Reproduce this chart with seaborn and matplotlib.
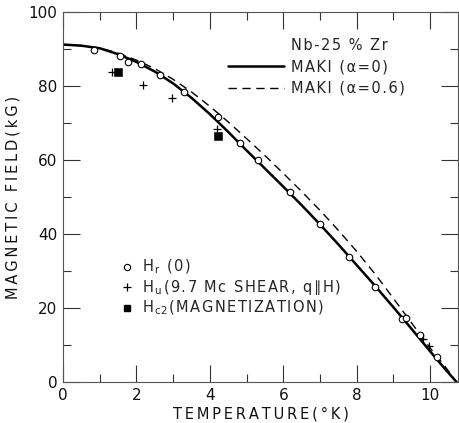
import re
import numpy as np
import pandas as pd
import matplotlib
matplotlib.use("Agg")
import matplotlib.pyplot as plt
from matplotlib.lines import Line2D
from matplotlib.ticker import MultipleLocator
import seaborn as sns

# ---- data ----
T_curve = [0, 0.5, 1, 1.5, 2, 2.5, 3, 3.5, 4, 4.5, 5, 5.5, 6, 6.5, 7, 7.5, 8, 8.5, 9, 9.5, 10, 10.4, 10.72]
H_maki_0 = [91.2, 90.9, 90.2, 88.6, 86.5, 83.9, 80.7, 76.8, 72.4, 67.6, 62.6, 57.7, 52.8, 47.8, 42.6, 37.2,
            31.6, 26.0, 20.2, 14.3, 8.3, 3.6, 0.0]
H_maki_06 = [91.2, 90.9, 90.3, 88.9, 87.0, 84.7, 81.8, 78.4, 74.5, 70.3, 65.8, 61.2, 56.4, 51.5, 46.4, 41.0,
             35.3, 29.2, 22.6, 15.9, 9.2, 4.3, 0.0]

T_hr = [0.85, 1.55, 1.78, 2.13, 2.64, 3.30, 4.23, 4.82, 5.32, 6.19, 7.00, 7.80, 8.50, 9.23, 9.35, 9.73, 10.18]
H_hr = [89.8, 88.1, 86.6, 85.9, 83.0, 78.4, 71.7, 64.5, 60.0, 51.4, 42.8, 33.9, 25.7, 17.0, 17.2, 12.8, 6.8]

T_hu = [1.33, 2.19, 2.98, 4.20, 9.82, 9.98]
H_hu = [83.9, 80.4, 76.7, 68.3, 11.6, 9.6]

T_hc2 = [1.51, 4.23]
H_hc2 = [83.9, 66.4]

x_ticks = [0, 2, 4, 6, 8, 10]
y_ticks = [0, 20, 40, 60, 80, 100]

legend_title = "Nb-25 % Zr"
curve_labels = ["MAKI (\u03b1=0)", "MAKI (\u03b1=0.6)"]
point_labels = ["H$_\\mathrm{r}$ (0)", "H$_\\mathrm{u}$(9.7 Mc SHEAR, q\u2225H)", "H$_\\mathrm{c2}$(MAGNETIZATION)"]
x_label = "TEMPERATURE(\u00b0K)"
y_label = "MAGNETIC FIELD(kG)"

sns.set_theme(style="ticks")
plt.rcParams['font.family'] = ['DejaVu Sans']


def spaced(s, sep="\u2009"):
    """Widen letter spacing outside of mathtext segments."""
    parts = re.split(r"(\$[^$]*\$)", s)
    out = []
    for p in parts:
        if p.startswith("$"):
            out.append(p)
        else:
            out.append(sep.join(list(p)))
    return sep.join([o for o in out if o])


HAIR = "\u200a"

W, H = 459, 423
fig = plt.figure(figsize=(W / 100, H / 100), dpi=100)
ax = fig.add_axes([63 / W, (H - 382) / H, 395 / W, 370 / H])

curves = pd.DataFrame({"T": T_curve, "a0": H_maki_0, "a06": H_maki_06})
sns.lineplot(data=curves, x="T", y="a0", ax=ax, color="black", lw=1.8, sort=False)
sns.lineplot(data=curves, x="T", y="a06", ax=ax, color="black", lw=1.0, sort=False, dashes=False)
ax.lines[-1].set_dashes([6, 4])

sns.scatterplot(x=T_hr, y=H_hr, ax=ax, marker="o", s=22, facecolor="white", edgecolor="black", linewidth=0.8, zorder=3)
sns.scatterplot(x=T_hu, y=H_hu, ax=ax, marker="+", s=40, color="black", linewidth=0.9, zorder=3)
sns.scatterplot(x=T_hc2, y=H_hc2, ax=ax, marker="s", s=26, color="black", edgecolor="black", zorder=3)

ax.set_xlim(0, 10.76)
ax.set_ylim(0, 100)
ax.xaxis.set_minor_locator(MultipleLocator(1))
ax.yaxis.set_minor_locator(MultipleLocator(10))
ax.set_xticks(x_ticks)
ax.set_yticks(y_ticks)
ax.set_xticklabels([str(v) for v in x_ticks])
ax.set_yticklabels([str(v) for v in y_ticks])
ax.tick_params(which="major", direction="in", length=12, width=0.8, color="#333333",
               top=True, right=True, labelsize=11, pad=4, labelcolor="#111111")
ax.tick_params(which="minor", direction="in", length=6, width=0.8, color="#333333", top=True, right=True)
for sp in ax.spines.values():
    sp.set_linewidth(0.8)
    sp.set_color("#555555")

ax.set_xlabel(spaced(x_label), fontsize=10.5, labelpad=3, color="#111111")
ax.set_ylabel(spaced(y_label), fontsize=10.5, labelpad=6, color="#111111")

# upper legend (curves)
h_title = Line2D([], [], linestyle="none")
h0 = Line2D([], [], color="black", lw=1.8)
h1 = Line2D([], [], color="black", lw=1.0, dashes=[6, 4])
leg1 = ax.legend([h_title, h0, h1], [spaced(t, HAIR) for t in [legend_title] + curve_labels], loc="upper left",
                 bbox_to_anchor=(0.418, 0.93), frameon=False, fontsize=10.5, handlelength=3.8,
                 handletextpad=0.5, labelspacing=0.44, borderpad=0, borderaxespad=0)
ax.add_artist(leg1)

hp0 = Line2D([], [], linestyle="none", marker="o", markersize=4.5, markerfacecolor="white",
             markeredgecolor="black", markeredgewidth=0.8)
hp1 = Line2D([], [], linestyle="none", marker="+", markersize=6, color="black", markeredgewidth=0.9)
hp2 = Line2D([], [], linestyle="none", marker="s", markersize=5, color="black")
ax.legend([hp0, hp1, hp2], [spaced(t, HAIR) for t in point_labels], loc="upper left", bbox_to_anchor=(0.144, 0.335),
          frameon=False, fontsize=10.5, handlelength=1.0, handletextpad=0.5, labelspacing=0.12,
          borderpad=0, borderaxespad=0)

fig.savefig("out.png", dpi=100)
